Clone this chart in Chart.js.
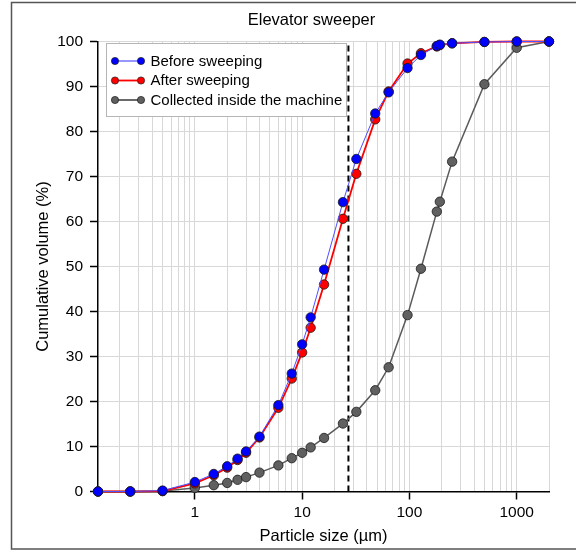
<!DOCTYPE html>
<html><head><meta charset="utf-8">
<script src="https://cdn.jsdelivr.net/npm/chart.js@4.4.1/dist/chart.umd.min.js"></script>
<style>html,body{margin:0;padding:0;background:#fff}#wrap{width:576px;height:551px}</style>
</head><body><div id="wrap"><canvas id="c" width="576" height="551"></canvas></div>
<script>
// ---- data ----
const particleSizes   = [0.125, 0.25, 0.5, 1, 1.5, 2, 2.5, 3, 4, 6, 8, 10, 12, 16, 24, 32, 48, 64, 96, 128, 180, 192, 250, 500, 1000, 2000];
const beforeSweeping  = [0, 0, 0.2, 2.1, 3.9, 5.6, 7.3, 8.9, 12.2, 19.2, 26.2, 32.7, 38.7, 49.3, 64.3, 73.9, 84.0, 88.7, 94.1, 97.0, 99.0, 99.3, 99.6, 99.9, 100, 100];
const afterSweeping   = [0, 0, 0.1, 1.8, 3.6, 5.3, 7.0, 8.6, 12.0, 18.6, 25.1, 30.9, 36.4, 46.0, 60.6, 70.6, 82.7, 88.9, 95.1, 97.4, 98.9, 99.2, 99.6, 99.9, 100, 100];
const collectedInside = [0, 0, 0.1, 0.8, 1.4, 1.9, 2.6, 3.2, 4.2, 5.8, 7.4, 8.6, 9.8, 11.9, 15.1, 17.7, 22.5, 27.6, 39.2, 49.5, 62.2, 64.4, 73.3, 90.5, 98.6, 100];
const cutSize = 27;
const seriesLabels = ['Before sweeping', 'After sweeping', 'Collected inside the machine'];
const xTickLabels = ['1', '10', '100', '1000'];
const yTickValues = [0, 10, 20, 30, 40, 50, 60, 70, 80, 90, 100];
const chartTitle = 'Elevator sweeper';
const xTitle = 'Particle size (µm)';
const yTitle = 'Cumulative volume (%)';

const FONT = "'Liberation Sans', Arial, sans-serif";
const pts = arr => particleSizes.map((x, i) => ({x: x, y: arr[i]}));
const styles = [
  {fill: '#0000ff', line: '#4f4fff', w: 1},
  {fill: '#ff0000', line: '#ff0000', w: 1.8},
  {fill: '#606060', line: '#5a5a5a', w: 1.5}
];
const mk = (i, arr) => ({
  label: seriesLabels[i], data: pts(arr),
  borderColor: styles[i].line, borderWidth: styles[i].w,
  backgroundColor: styles[i].fill, pointBackgroundColor: styles[i].fill,
  pointBorderColor: '#1a1a1a', pointBorderWidth: 0.8, pointRadius: 4.7,
  tension: 0, clip: false
});

const decor = {
  id: 'decor',
  beforeDraw(chart) {
    const c = chart.ctx; c.save();
    c.fillStyle = '#fff'; c.fillRect(0, 0, chart.width, chart.height);
    c.strokeStyle = '#555'; c.lineWidth = 1.5;
    c.strokeRect(11.5, 2.5, 620, 546.5);
    c.restore();
  },
  afterDraw(chart) {
    const c = chart.ctx, a = chart.chartArea; c.save();
    c.fillStyle = '#000'; c.textAlign = 'center'; c.textBaseline = 'middle';
    c.font = '16.5px ' + FONT;
    c.fillText(chartTitle, 311.5, 20);
    c.fillText(xTitle, (a.left + a.right) / 2, 536);
    c.save(); c.translate(43, (a.top + a.bottom) / 2); c.rotate(-Math.PI / 2);
    c.fillText(yTitle, 0, 0); c.restore();
    // legend
    c.fillStyle = '#fff'; c.strokeStyle = '#b5b5b5'; c.lineWidth = 1;
    c.fillRect(106.5, 43.5, 240, 73); c.strokeRect(106.5, 43.5, 240, 73);
    const rows = [61, 80.5, 100];
    c.font = '15px ' + FONT; c.textAlign = 'left';
    for (let i = 0; i < 3; i++) {
      const y = rows[i];
      c.strokeStyle = styles[i].line; c.lineWidth = i === 0 ? 1.2 : 1.8;
      c.beginPath(); c.moveTo(115, y); c.lineTo(141, y); c.stroke();
      for (const x of [115, 141]) {
        c.beginPath(); c.arc(x, y, 3.6, 0, Math.PI * 2);
        c.fillStyle = styles[i].fill; c.fill();
        c.strokeStyle = '#1a1a1a'; c.lineWidth = 0.7; c.stroke();
      }
      c.fillStyle = '#000'; c.fillText(seriesLabels[i], 150.5, y + 0.5);
    }
    c.restore();
  }
};

const isDecade = v => Math.abs(Math.log10(v) - Math.round(Math.log10(v))) < 1e-9;

new Chart(document.getElementById('c'), {
  type: 'line',
  data: {
    datasets: [
      mk(0, beforeSweeping),
      mk(1, afterSweeping),
      mk(2, collectedInside),
      {label: 'cut', data: [{x: cutSize, y: 0}, {x: cutSize, y: 100}], borderColor: '#000', borderWidth: 2,
       borderDash: [6, 4], pointRadius: 0}
    ]
  },
  options: {
    responsive: false, animation: false,
    layout: {padding: {left: 0, right: 27, top: 41.5, bottom: 0}},
    plugins: {legend: {display: false}, title: {display: false}, tooltip: {enabled: false}},
    scales: {
      x: {
        type: 'logarithmic', min: 0.125, max: 2000,
        afterFit(s) { s.height = 551 - 491.5; },
        afterBuildTicks(s) {
          const t = [];
          for (let e = -1; e <= 3; e++) for (let m = 1; m <= 9; m++) {
            const v = m * Math.pow(10, e);
            if (v > 0.125 && v <= 2000) t.push({value: v});
          }
          s.ticks = t;
        },
        ticks: {
          autoSkip: false, maxRotation: 0, padding: 4, color: '#000',
          font: {family: FONT, size: 15.5},
          callback: v => (isDecade(v) && xTickLabels.includes(String(Math.round(v)))) ? String(Math.round(v)) : ''
        },
        grid: {color: '#d8d8d8', lineWidth: 1, tickLength: 8,
          tickColor: ctx => (ctx.tick && isDecade(ctx.tick.value) && xTickLabels.includes(String(Math.round(ctx.tick.value)))) ? '#000' : 'rgba(0,0,0,0)',
          tickWidth: 1.5},
        border: {color: '#000', width: 1.5}
      },
      y: {
        min: 0, max: 100,
        afterFit(s) { s.width = 98; },
        afterBuildTicks(s) { s.ticks = yTickValues.map(v => ({value: v})); },
        ticks: {padding: 7, color: '#000', font: {family: FONT, size: 15.5}},
        grid: {color: '#d8d8d8', lineWidth: 1, tickLength: 8, tickColor: '#000', tickWidth: 1.5},
        border: {color: '#000', width: 1.5}
      }
    }
  },
  plugins: [decor]
});
</script></body></html>
